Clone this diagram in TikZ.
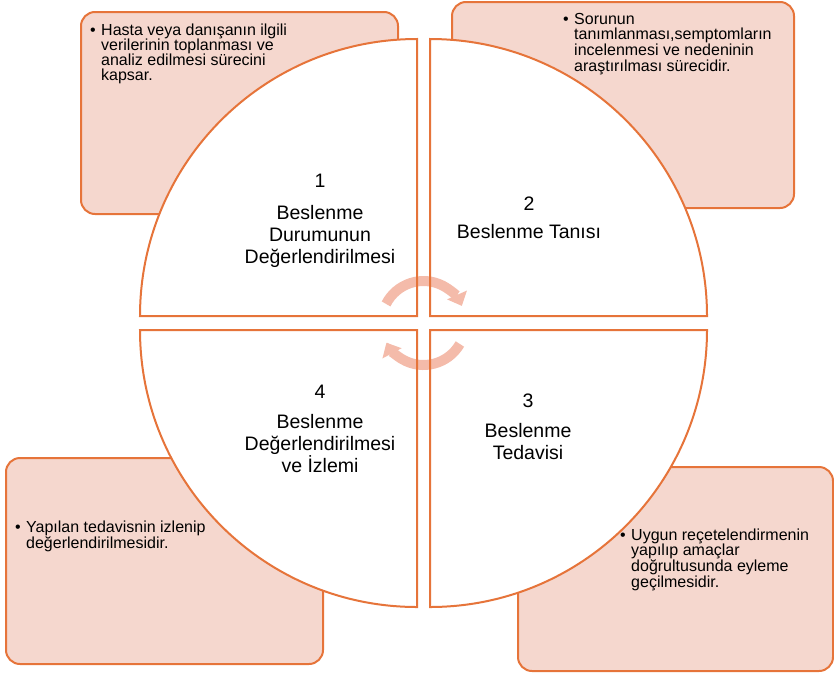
\documentclass[tikz,border=0pt]{standalone}
\usepackage{fontspec}
\setmainfont{Liberation Sans}
\usetikzlibrary{arrows.meta}
\definecolor{edgec}{HTML}{E6743A}
\definecolor{boxfill}{HTML}{F5D7CE}
\definecolor{arrowc}{HTML}{F4BBAA}
\begin{document}
\begin{tikzpicture}[x=1pt,y=-1pt,
  infobox/.style={draw=edgec, fill=boxfill, line width=2pt, rounded corners=14pt, inner sep=0pt, anchor=north west},
  quadfill/.style={fill=white},
  quadedge/.style={draw=edgec, line width=2pt, line join=miter},
  boxtext/.style={anchor=base west, inner sep=0pt},
  bulletmark/.style={anchor=base west, inner sep=0pt, font=\fontsize{16}{15.7}\selectfont},
  quadlabel/.style={anchor=base, inner sep=0pt},
  cyclearrow/.style={draw=arrowc, line width=10pt, -{Triangle[width=21pt,length=12pt]}}
]
\useasboundingbox (0,0) rectangle (834,675);
% info boxes
\node[infobox, minimum width=317pt, minimum height=202pt] (box1) at (80,11) {};
\node[infobox, minimum width=342pt, minimum height=206pt] (box2) at (451,1) {};
\node[infobox, minimum width=317pt, minimum height=206pt] (box4) at (5,457) {};
\node[infobox, minimum width=315pt, minimum height=204pt] (box3) at (517,466) {};
% quadrant fills
\path[quadfill] (417,316) -- (140,316) arc[start angle=180, end angle=270, radius=277] -- cycle;
\path[quadfill] (430,316) -- (430,39) arc[start angle=270, end angle=360, radius=277] -- cycle;
\path[quadfill] (430,330) -- (707,330) arc[start angle=0, end angle=90, radius=277] -- cycle;
\path[quadfill] (417,330) -- (417,607) arc[start angle=90, end angle=180, radius=277] -- cycle;
% cycle arrows
\coordinate (cyc) at (423.5,323);
\draw[cyclearrow] (cyc) ++(207:42) arc[start angle=207, end angle=336, radius=42];
\draw[cyclearrow] (cyc) ++(30:42) arc[start angle=30, end angle=152, radius=42];
% quadrant outlines
\path[quadedge] (417,316) -- (140,316) arc[start angle=180, end angle=270, radius=277] -- cycle;
\path[quadedge] (430,316) -- (430,39) arc[start angle=270, end angle=360, radius=277] -- cycle;
\path[quadedge] (430,330) -- (707,330) arc[start angle=0, end angle=90, radius=277] -- cycle;
\path[quadedge] (417,330) -- (417,607) arc[start angle=90, end angle=180, radius=277] -- cycle;
% box texts
\node[bulletmark] (b1) at (90,35) {•};
\node[boxtext] (t1) at (101,35) {\parbox[t]{250pt}{\raggedright\fontsize{16}{15}\selectfont Hasta veya danışanın ilgili\\verilerinin toplanması ve\\analiz edilmesi sürecini\\kapsar.}};
\node[bulletmark] (b2) at (563,24) {•};
\node[boxtext] (t2) at (574,24) {\parbox[t]{250pt}{\raggedright\fontsize{16}{15.7}\selectfont Sorunun\\tanımlanması,semptomların\\incelenmesi ve nedeninin\\araştırılması sürecidir.}};
\node[bulletmark] (b4) at (15,532) {•};
\node[boxtext] (t4) at (26,532) {\parbox[t]{250pt}{\raggedright\fontsize{16}{16.5}\selectfont Yapılan tedavisnin izlenip\\değerlendirilmesidir.}};
\node[bulletmark] (b3) at (620,540) {•};
\node[boxtext] (t3) at (631,540) {\parbox[t]{200pt}{\raggedright\fontsize{16}{15.7}\selectfont Uygun reçetelendirmenin\\yapılıp amaçlar\\doğrultusunda eyleme\\geçilmesidir.}};
% quadrant labels
\node[quadlabel] (q1) at (320,187) {\parbox[t]{220pt}{\centering\fontsize{19.5}{22}\selectfont 1\\[10pt]Beslenme\\Durumunun\\Değerlendirilmesi}};
\node[quadlabel] (q2) at (529,210) {\parbox[t]{220pt}{\centering\fontsize{19.5}{22}\selectfont 2\\[6pt]Beslenme Tanısı}};
\node[quadlabel] (q3) at (528,407) {\parbox[t]{220pt}{\centering\fontsize{19.5}{22}\selectfont 3\\[8pt]Beslenme\\Tedavisi}};
\node[quadlabel] (q4) at (320,398) {\parbox[t]{220pt}{\centering\fontsize{19.5}{22}\selectfont 4\\[8pt]Beslenme\\Değerlendirilmesi\\ve İzlemi}};
\end{tikzpicture}
\end{document}
